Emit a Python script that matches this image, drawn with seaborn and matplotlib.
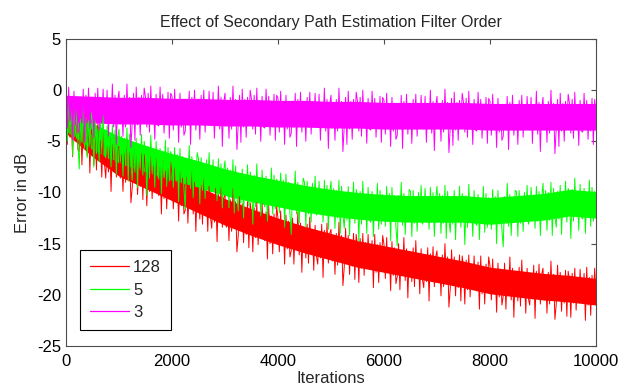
import matplotlib
matplotlib.use("Agg")
import matplotlib.pyplot as plt
import seaborn as sns
import pandas as pd

# Sample positions (iterations) of the error traces and of the dense core bands
iterations = list(range(0, 10001, 25))
core_iterations = list(range(0, 10001, 500))

legend_labels = ["128", "5", "3"]
colors = ["#FF0000", "#00FF00", "#FF00FF"]

# Error traces in dB, one value every 25 iterations (filter order 128)
err_128 = [
    -2.0, -5.3, -1.3, -4.6, -2.5, -6.5, -1.7, -5.0, -2.3, -5.8,
    -6.0, -2.8, -7.3, -3.6, -5.7, -2.2, -6.4, -3.3, -8.1, -3.8,
    -4.4, -7.3, -4.0, -7.8, -3.3, -6.9, -4.9, -8.5, -4.1, -7.1,
    -8.6, -5.5, -8.0, -4.7, -9.9, -5.3, -7.8, -4.6, -8.5, -5.6,
    -5.5, -8.6, -6.3, -9.9, -5.9, -9.0, -4.8, -8.4, -6.1, -11.0,
    -9.5, -5.7, -8.9, -6.4, -10.2, -7.0, -9.4, -6.2, -10.7, -6.3,
    -7.7, -11.3, -7.0, -9.9, -6.5, -10.6, -7.4, -9.8, -6.6, -9.7,
    -10.3, -7.5, -12.1, -6.9, -10.6, -7.9, -11.6, -7.7, -10.1, -7.0,
    -8.3, -11.6, -7.6, -10.9, -8.8, -12.8, -8.0, -11.3, -8.6, -12.1,
    -11.7, -8.5, -13.0, -9.3, -11.4, -7.9, -12.1, -9.0, -13.8, -9.5,
    -9.7, -12.6, -9.3, -13.1, -8.6, -12.2, -10.2, -13.8, -9.4, -12.4,
    -13.5, -10.4, -12.9, -9.6, -14.8, -10.2, -12.7, -9.5, -13.4, -10.5,
    -10.3, -13.4, -11.1, -14.7, -10.7, -13.8, -9.6, -13.2, -10.9, -15.8,
    -14.2, -10.4, -13.6, -11.1, -14.9, -11.7, -14.1, -10.9, -15.4, -11.0,
    -12.2, -15.8, -11.5, -14.4, -11.0, -15.1, -11.9, -14.3, -11.1, -14.2,
    -14.7, -11.9, -16.5, -11.3, -15.0, -12.3, -16.0, -12.1, -14.5, -11.4,
    -12.5, -15.8, -11.8, -15.1, -13.0, -17.0, -12.2, -15.5, -12.8, -16.3,
    -15.7, -12.5, -17.0, -13.3, -15.4, -11.9, -16.1, -13.0, -17.8, -13.5,
    -13.5, -16.4, -13.1, -16.9, -12.4, -16.0, -14.0, -17.6, -13.2, -16.2,
    -17.0, -13.9, -16.4, -13.1, -18.3, -13.7, -16.2, -13.0, -16.9, -14.0,
    -13.6, -16.7, -14.4, -18.0, -14.0, -17.1, -12.9, -16.5, -14.2, -19.1,
    -17.3, -13.5, -16.7, -14.2, -18.0, -14.8, -17.2, -14.0, -18.5, -14.1,
    -15.2, -18.8, -14.5, -17.4, -14.0, -18.1, -14.9, -17.3, -14.1, -17.2,
    -17.5, -14.7, -19.3, -14.1, -17.8, -15.1, -18.8, -14.9, -17.3, -14.2,
    -15.1, -18.4, -14.4, -17.7, -15.6, -19.6, -14.8, -18.1, -15.4, -18.9,
    -18.2, -15.0, -19.5, -15.8, -17.9, -14.4, -18.6, -15.5, -20.3, -16.0,
    -15.8, -18.7, -15.4, -19.2, -14.7, -18.3, -16.3, -19.9, -15.5, -18.5,
    -19.3, -16.2, -18.7, -15.4, -20.6, -16.0, -18.5, -15.3, -19.2, -16.3,
    -15.7, -18.8, -16.5, -20.1, -16.1, -19.2, -15.0, -18.6, -16.3, -21.2,
    -19.4, -15.6, -18.8, -16.3, -20.1, -16.9, -19.3, -16.1, -20.6, -16.2,
    -17.3, -20.9, -16.6, -19.5, -16.1, -20.2, -17.0, -19.4, -16.2, -19.3,
    -19.6, -16.8, -21.4, -16.2, -19.9, -17.2, -20.9, -17.0, -19.4, -16.3,
    -17.2, -20.5, -16.5, -19.8, -17.7, -21.7, -16.9, -20.2, -17.5, -21.0,
    -20.1, -16.9, -21.4, -17.7, -19.8, -16.3, -20.5, -17.4, -22.2, -17.9,
    -17.7, -20.6, -17.3, -21.1, -16.6, -20.2, -18.2, -21.8, -17.4, -20.4,
    -21.0, -17.9, -20.4, -17.1, -22.3, -17.7, -20.2, -17.0, -20.9, -18.0,
    -17.4, -20.5, -18.2, -21.8, -17.8, -20.9, -16.7, -20.3, -18.0, -22.4,
    -20.9, -17.1, -20.3, -17.8, -21.6, -18.4, -20.8, -17.6, -22.1, -17.7,
    -18.6, -22.2, -17.9, -20.8, -17.4, -21.5, -18.3, -20.7, -17.5, -20.6,
    -20.7, -17.9, -22.5, -17.3, -21.0, -18.3, -22.0, -18.1, -20.5, -17.4,
    -19.9,
]

# Filter order 5
err_5 = [
    -2.1, -5.0, -1.1, -4.3, -1.8, -6.4, -1.2, -4.5, -2.0, -5.1,
    -7.7, -2.8, -5.1, -1.5, -5.7, -2.6, -6.6, -3.0, -5.3, -2.2,
    -3.1, -7.5, -3.0, -6.2, -3.8, -7.0, -3.2, -5.7, -2.5, -6.3,
    -6.6, -3.5, -6.7, -4.3, -7.5, -3.4, -6.8, -3.9, -8.2, -4.6,
    -3.8, -6.9, -4.5, -8.4, -4.7, -7.4, -3.7, -8.9, -4.3, -7.1,
    -8.8, -5.3, -8.0, -4.7, -9.5, -5.5, -7.6, -4.3, -8.3, -5.0,
    -6.0, -10.3, -5.5, -8.6, -4.4, -7.9, -5.8, -9.5, -5.0, -8.2,
    -8.7, -5.7, -10.1, -6.5, -8.5, -4.9, -9.4, -5.6, -8.9, -6.0,
    -6.6, -9.5, -5.6, -8.8, -6.3, -10.9, -5.7, -9.0, -6.5, -9.6,
    -11.6, -6.7, -9.0, -5.4, -9.6, -6.5, -10.5, -6.9, -9.2, -6.1,
    -6.7, -11.1, -6.6, -9.8, -7.4, -10.6, -6.8, -9.3, -6.1, -9.9,
    -9.9, -6.8, -10.0, -7.6, -10.8, -6.7, -10.1, -7.2, -11.5, -7.9,
    -6.9, -10.0, -7.6, -11.5, -7.8, -10.5, -6.8, -12.0, -7.4, -10.2,
    -11.8, -8.3, -11.0, -7.7, -12.5, -8.5, -10.6, -7.3, -11.3, -8.0,
    -8.8, -13.1, -8.3, -11.4, -7.2, -10.7, -8.6, -12.3, -7.8, -11.0,
    -11.4, -8.4, -12.8, -9.2, -11.2, -7.6, -12.1, -8.3, -11.6, -8.7,
    -9.1, -12.0, -8.1, -11.3, -8.8, -13.4, -8.2, -11.5, -9.0, -12.1,
    -14.1, -9.2, -11.5, -7.9, -12.1, -9.0, -13.0, -9.4, -11.7, -8.6,
    -9.0, -13.4, -8.9, -12.1, -9.7, -12.9, -9.1, -11.6, -8.4, -12.2,
    -12.0, -8.9, -12.1, -9.7, -12.9, -8.8, -12.2, -9.3, -13.6, -10.0,
    -8.9, -12.0, -9.6, -13.5, -9.8, -12.5, -8.8, -14.0, -9.4, -12.2,
    -13.5, -10.0, -12.7, -9.4, -14.2, -10.2, -12.3, -9.0, -13.0, -9.7,
    -10.4, -14.8, -9.9, -13.1, -8.9, -12.4, -10.3, -14.0, -9.5, -12.7,
    -12.9, -9.9, -14.3, -10.7, -12.7, -9.1, -13.6, -9.8, -13.1, -10.2,
    -10.4, -13.3, -9.4, -12.6, -10.1, -14.7, -9.5, -12.8, -10.3, -13.4,
    -15.2, -10.3, -12.6, -9.0, -13.2, -10.1, -14.1, -10.5, -12.8, -9.7,
    -9.9, -14.3, -9.8, -13.0, -10.6, -13.8, -10.0, -12.5, -9.3, -13.1,
    -12.7, -9.6, -12.8, -10.4, -13.6, -9.5, -12.9, -10.0, -14.3, -10.7,
    -9.4, -12.5, -10.1, -14.0, -10.3, -13.0, -9.3, -14.5, -9.9, -12.7,
    -13.9, -10.4, -13.1, -9.8, -14.6, -10.6, -12.7, -9.4, -13.4, -10.1,
    -10.8, -15.1, -10.3, -13.4, -9.2, -12.7, -10.6, -14.3, -9.8, -13.0,
    -13.2, -10.2, -14.6, -11.0, -13.0, -9.4, -13.9, -10.1, -13.4, -10.5,
    -10.7, -13.6, -9.7, -12.9, -10.4, -15.0, -9.8, -13.1, -10.6, -13.7,
    -15.3, -10.4, -12.7, -9.1, -13.3, -10.2, -14.2, -10.6, -12.9, -9.8,
    -9.9, -14.3, -9.8, -13.0, -10.6, -13.8, -10.0, -12.5, -9.3, -13.1,
    -12.6, -9.5, -12.7, -10.3, -13.5, -9.4, -12.8, -9.9, -14.2, -10.6,
    -9.1, -12.2, -9.8, -13.7, -10.0, -12.7, -9.0, -14.2, -9.6, -12.4,
    -13.4, -9.9, -12.6, -9.3, -14.1, -10.1, -12.2, -8.9, -12.9, -9.6,
    -10.2, -14.5, -9.7, -12.8, -8.6, -12.1, -10.0, -13.7, -9.2, -12.4,
    -12.6, -9.6, -14.0, -10.4, -12.4, -8.8, -13.3, -9.5, -12.8, -9.9,
    -11.4,
]

# Filter order 3
err_3 = [
    -0.4, -3.7, 0.3, -3.0, -0.9, -4.9, -0.1, -3.4, -0.7, -4.2,
    -3.8, -0.7, -3.2, 0.1, -5.1, -0.5, -3.0, 0.2, -3.7, -0.8,
    -1.0, -4.6, -0.3, -3.2, 0.2, -3.9, -0.7, -3.1, 0.1, -3.0,
    -3.2, 0.0, -4.5, -0.8, -2.9, 0.6, -3.6, -0.5, -5.3, -1.0,
    -0.1, -3.2, -0.9, -4.5, -0.5, -3.6, 0.6, -3.0, -0.7, -5.6,
    -3.1, -0.3, -4.9, 0.3, -3.4, -0.7, -4.4, -0.5, -2.9, 0.2,
    -0.7, -3.6, -0.3, -4.1, 0.4, -3.2, -1.2, -4.8, -0.4, -3.4,
    -3.5, 0.3, -2.9, -0.4, -4.2, -1.0, -3.4, -0.2, -4.7, -0.3,
    -0.6, -3.9, 0.1, -3.2, -1.1, -5.1, -0.3, -3.6, -0.9, -4.4,
    -4.0, -0.9, -3.4, -0.1, -5.3, -0.7, -3.2, 0.0, -3.9, -1.0,
    -1.2, -4.8, -0.5, -3.4, 0.0, -4.1, -0.9, -3.3, -0.1, -3.2,
    -3.4, -0.2, -4.7, -1.0, -3.1, 0.4, -3.8, -0.7, -5.5, -1.2,
    -0.3, -3.4, -1.1, -4.7, -0.7, -3.8, 0.4, -3.2, -0.9, -5.8,
    -3.3, -0.5, -5.1, 0.1, -3.6, -0.9, -4.6, -0.7, -3.1, 0.0,
    -0.9, -3.8, -0.5, -4.3, 0.2, -3.4, -1.4, -5.0, -0.6, -3.6,
    -3.7, 0.1, -3.1, -0.6, -4.4, -1.2, -3.6, -0.4, -4.9, -0.5,
    -0.8, -4.1, -0.1, -3.4, -1.3, -5.3, -0.5, -3.8, -1.1, -4.6,
    -4.2, -1.1, -3.6, -0.3, -5.5, -0.9, -3.4, -0.2, -4.1, -1.2,
    -1.4, -5.0, -0.7, -3.6, -0.2, -4.3, -1.1, -3.5, -0.3, -3.4,
    -3.6, -0.4, -4.9, -1.2, -3.3, 0.2, -4.0, -0.9, -5.7, -1.4,
    -0.5, -3.6, -1.3, -4.9, -0.9, -4.0, 0.2, -3.4, -1.1, -6.0,
    -3.5, -0.7, -5.3, -0.1, -3.8, -1.1, -4.8, -0.9, -3.3, -0.2,
    -1.1, -4.0, -0.7, -4.5, 0.0, -3.6, -1.6, -5.2, -0.8, -3.8,
    -3.9, -0.1, -3.3, -0.8, -4.6, -1.4, -3.8, -0.6, -5.1, -0.7,
    -1.0, -4.3, -0.3, -3.6, -1.5, -5.5, -0.7, -4.0, -1.3, -4.8,
    -4.4, -1.3, -3.8, -0.5, -5.7, -1.1, -3.6, -0.4, -4.3, -1.4,
    -1.6, -5.2, -0.9, -3.8, -0.4, -4.5, -1.3, -3.7, -0.5, -3.6,
    -3.8, -0.6, -5.1, -1.4, -3.5, 0.0, -4.2, -1.1, -5.9, -1.6,
    -0.6, -3.7, -1.4, -5.0, -1.0, -4.1, 0.1, -3.5, -1.2, -6.1,
    -3.6, -0.8, -5.4, -0.2, -3.9, -1.2, -4.9, -1.0, -3.4, -0.3,
    -1.2, -4.1, -0.8, -4.6, -0.1, -3.7, -1.7, -5.3, -0.9, -3.9,
    -4.0, -0.2, -3.4, -0.9, -4.7, -1.5, -3.9, -0.7, -5.2, -0.8,
    -1.1, -4.4, -0.4, -3.7, -1.6, -5.6, -0.8, -4.1, -1.4, -4.9,
    -4.5, -1.4, -3.9, -0.6, -5.8, -1.2, -3.7, -0.5, -4.4, -1.5,
    -1.7, -5.3, -1.0, -3.9, -0.5, -4.6, -1.4, -3.8, -0.6, -3.7,
    -3.9, -0.7, -5.2, -1.5, -3.6, -0.1, -4.3, -1.2, -6.0, -1.7,
    -0.7, -3.8, -1.5, -5.1, -1.1, -4.2, 0.0, -3.6, -1.3, -6.2,
    -3.7, -0.9, -5.5, -0.3, -4.0, -1.3, -5.0, -1.1, -3.5, -0.4,
    -1.3, -4.2, -0.9, -4.7, -0.2, -3.8, -1.8, -5.4, -1.0, -4.0,
    -4.1, -0.3, -3.5, -1.0, -4.8, -1.6, -4.0, -0.8, -5.3, -0.9,
    -2.2,
]

# Solid core of each noisy trace (upper / lower edge), every 500 iterations
core_hi_128 = [-1.6, -3.9, -5.8, -7.0, -8.2, -9.4, -10.6, -11.6, -12.5, -13.3, -14.0,
               -14.7, -15.2, -15.7, -16.2, -16.7, -17.3, -17.6, -17.9, -18.1, -18.4]
core_lo_128 = [-4.2, -6.5, -8.4, -9.6, -10.8, -12.0, -13.2, -14.2, -15.1, -15.9, -16.6,
               -17.3, -17.8, -18.3, -18.8, -19.3, -19.9, -20.2, -20.5, -20.7, -21.0]
core_hi_5 = [-1.4, -3.2, -4.5, -5.4, -6.2, -6.9, -7.7, -8.3, -8.8, -9.3, -9.7,
             -10.0, -10.2, -10.3, -10.3, -10.3, -10.5, -10.3, -10.1, -9.7, -9.9]
core_lo_5 = [-4.0, -5.8, -7.1, -8.0, -8.8, -9.5, -10.3, -10.9, -11.4, -11.9, -12.3,
             -12.6, -12.8, -12.9, -12.9, -12.9, -13.1, -12.9, -12.7, -12.3, -12.5]
core_hi_3 = [-0.5, -0.6, -0.7, -0.7, -0.8, -0.8, -0.9, -0.9, -1.0, -1.0, -1.1,
             -1.1, -1.2, -1.2, -1.2, -1.2, -1.3, -1.3, -1.3, -1.3, -1.3]
core_lo_3 = [-3.1, -3.2, -3.3, -3.3, -3.4, -3.4, -3.5, -3.5, -3.6, -3.6, -3.7,
             -3.7, -3.8, -3.8, -3.8, -3.8, -3.9, -3.9, -3.9, -3.9, -3.9]

x_ticks = [0, 2000, 4000, 6000, 8000, 10000]
y_ticks = [-25, -20, -15, -10, -5, 0, 5]

sns.set_style("white")
plt.rcParams["font.family"] = ["Liberation Sans", "DejaVu Sans"]

fig = plt.figure(figsize=(6.22, 3.89), dpi=100)
ax = fig.add_axes([66 / 622, (389 - 346) / 389, 530 / 622, 307 / 389])

traces = [err_128, err_5, err_3]
cores = [(core_hi_128, core_lo_128), (core_hi_5, core_lo_5), (core_hi_3, core_lo_3)]

for label, color, trace, (hi, lo) in zip(legend_labels, colors, traces, cores):
    ax.fill_between(core_iterations, lo, hi, color=color, linewidth=0)
    df = pd.DataFrame({"Iterations": iterations, "err": trace})
    sns.lineplot(data=df, x="Iterations", y="err", ax=ax, color=color,
                 linewidth=0.7, label=label, estimator=None, sort=False)

ax.set_xlim(0, 10000)
ax.set_ylim(-25, 5)
ax.set_xticks(x_ticks)
ax.set_yticks(y_ticks)
ax.set_xticklabels([str(t) for t in x_ticks])
ax.set_yticklabels([str(t) for t in y_ticks])
ax.tick_params(axis="both", direction="in", length=3.6, width=0.8, top=True, right=True,
               labelsize=12, colors="#4d4d4d", labelcolor="#000000")
ax.tick_params(axis="x", pad=5.5)
ax.tick_params(axis="y", pad=3.5)
for side in ax.spines.values():
    side.set_visible(True)
    side.set_color("#4d4d4d")
    side.set_linewidth(0.8)

ax.set_xlabel("Iterations", fontsize=12, labelpad=2)
ax.set_ylabel("Error in dB", fontsize=12, labelpad=5)
ax.set_title("Effect of Secondary Path Estimation Filter Order", fontsize=11.5, pad=9)

leg = ax.legend(loc="lower left", bbox_to_anchor=(0.026, 0.052), fontsize=12,
                frameon=True, fancybox=False, handlelength=2.35, handletextpad=0.25,
                borderpad=0.6, labelspacing=0.45, borderaxespad=0)
leg.get_frame().set_edgecolor("#000000")
leg.get_frame().set_linewidth(0.8)
leg.get_frame().set_alpha(1.0)
for line in leg.get_lines():
    line.set_linewidth(0.9)

fig.savefig("out.png", dpi=100, facecolor="white")
